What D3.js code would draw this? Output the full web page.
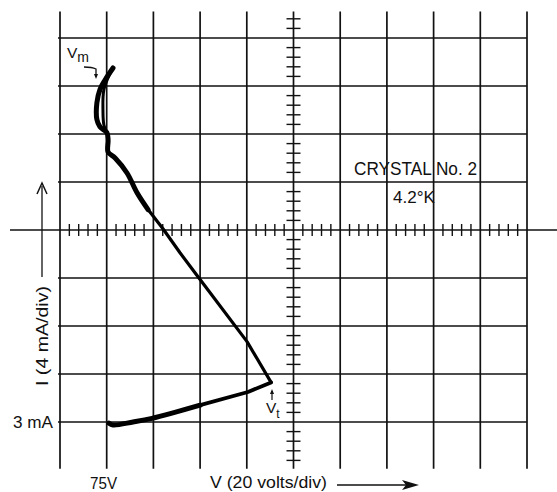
<!DOCTYPE html>
<html><head><meta charset="utf-8">
<script src="https://cdn.jsdelivr.net/npm/d3@7"></script>
<style>html,body{margin:0;padding:0;background:#fff;}svg{display:block;}</style>
</head><body>
<script>
// ---- data (V in volts, I in mA) ----
const gridVolts = [55,75,95,115,135,155,175,195,215,235,255];
const gridCurrents = [3,7,11,15,19,23,27,31,35];
const axisV = 155, axisI = 19;
const traceUpperV = [77.7,74.3,72.1,70.8,70.8,72.1,75.1,75.6,75.6,78.6,83.7,88.0,92.7];
const traceUpperI = [32.5,31.5,30.7,29.6,28.2,27.6,27.1,26.5,25.5,25.0,23.75,22.1,20.7];
const retraceV = [76.8,73.8,73.4,73.8,75.1];
const retraceI = [32.2,30.7,29.0,27.75,27.1];
const traceDiagV = [92.7,99.1,106.4,114.1,135.1,145.4];
const traceDiagI = [20.7,19.1,17.1,15.1,9.7,6.3];
const traceReturnV = [145.4,135.5,115.0];
const traceReturnI = [6.3,5.5,4.4];
const traceBottomV = [115.0,94.4,86.3,77.7,76.0];
const traceBottomI = [4.4,3.3,3.0,2.75,2.9];

const W = 557, H = 492;
const svg = d3.select("body").append("svg").attr("width", W).attr("height", H);
const x = d3.scaleLinear().domain([55,255]).range([60,527]);
const y = d3.scaleLinear().domain([3,35]).range([422,38]);
const yTop = 37.2, yBot = -0.9;
const font = "'Liberation Sans', Arial, sans-serif";

const g = svg.append("g").attr("stroke","#111").attr("fill","none");
// vertical grid
g.selectAll("line.v").data(gridVolts).join("line")
  .attr("x1", d=>x(d)).attr("x2", d=>x(d))
  .attr("y1", y(yTop)).attr("y2", y(yBot)).attr("stroke-width",1.7);
// horizontal grid
g.selectAll("line.h").data(gridCurrents).join("line")
  .attr("x1", d=> d===axisI ? 10 : x(55)-2).attr("x2", d=> d===axisI ? W : x(255))
  .attr("y1", d=>y(d)).attr("y2", d=>y(d)).attr("stroke-width",1.6);

// minor ticks on centre axes
const minorV = d3.range(55, 255.01, 4).filter(v => !gridVolts.includes(Math.round(v)) );
g.selectAll("line.mx").data(minorV).join("line")
  .attr("x1", d=>x(d)).attr("x2", d=>x(d))
  .attr("y1", y(axisI)-6).attr("y2", y(axisI)+6).attr("stroke-width",1.4);
const minorI = d3.range(-0.2, 37.01, 0.8).filter(v => Math.abs((v-3)/4 - Math.round((v-3)/4))>0.01);
g.selectAll("line.my").data(minorI).join("line")
  .attr("x1", x(axisV)-7).attr("x2", x(axisV)+7)
  .attr("y1", d=>y(d)).attr("y2", d=>y(d)).attr("stroke-width",1.4);

// traces
const zip = (a,b)=>a.map((v,i)=>[v,b[i]]);
const lineC = d3.line().x(d=>x(d[0])).y(d=>y(d[1])).curve(d3.curveCatmullRom);
const lineL = d3.line().x(d=>x(d[0])).y(d=>y(d[1]));
const tr = svg.append("g").attr("fill","none").attr("stroke","#000")
  .attr("stroke-linecap","round").attr("stroke-linejoin","round");
tr.append("path").attr("d", lineC(zip(traceUpperV,traceUpperI))).attr("stroke-width",5);
tr.append("path").attr("d", lineC(zip(retraceV,retraceI))).attr("stroke-width",3);
tr.append("path").attr("d", lineL(zip(traceDiagV,traceDiagI))).attr("stroke-width",3.2);
tr.append("path").attr("d", lineL(zip(traceReturnV,traceReturnI))).attr("stroke-width",3.8);
tr.append("path").attr("d", lineC(zip(traceBottomV,traceBottomI))).attr("stroke-width",5);

// text
const t = svg.append("g").attr("fill","#111").attr("font-family",font);
t.append("text").attr("x",354).attr("y",175).attr("font-size",17.5).attr("textLength",123).attr("lengthAdjust","spacingAndGlyphs").text("CRYSTAL No. 2");
t.append("text").attr("x",393).attr("y",203).attr("font-size",16.5).attr("textLength",42).attr("lengthAdjust","spacingAndGlyphs").text("4.2°K");
t.append("text").attr("x",90).attr("y",489).attr("font-size",16.5).attr("textLength",27).attr("lengthAdjust","spacingAndGlyphs").text("75V");
t.append("text").attr("x",13).attr("y",428).attr("font-size",16).attr("textLength",40).attr("lengthAdjust","spacingAndGlyphs").text("3 mA");
t.append("text").attr("x",210).attr("y",488).attr("font-size",16.5).attr("textLength",117).attr("lengthAdjust","spacingAndGlyphs").text("V (20 volts/div)");
t.append("text").attr("transform","translate(48,386) rotate(-90)").attr("font-size",17).attr("textLength",100).attr("lengthAdjust","spacingAndGlyphs").text("I (4 mA/div)");

// Vm label
const vm = t.append("text").attr("x",67).attr("y",58).attr("font-size",15.5);
vm.append("tspan").text("V");
vm.append("tspan").attr("dy",4).attr("font-size",14).text("m");
svg.append("path").attr("d","M84,67 Q92,67 96,69 L96,77").attr("fill","none").attr("stroke","#111").attr("stroke-width",1.3);
svg.append("path").attr("d","M94,74 L96,79 L98,74 Z").attr("fill","#111");
// Vt label
const vt = t.append("text").attr("x",266).attr("y",413).attr("font-size",15.5);
vt.append("tspan").text("V");
vt.append("tspan").attr("dy",5).attr("font-size",12).text("t");
svg.append("line").attr("x1",272).attr("x2",272).attr("y1",400).attr("y2",391).attr("stroke","#111").attr("stroke-width",1.2);
svg.append("path").attr("d","M270,394 L272,389 L274,394 Z").attr("fill","#111");

// axis arrows
svg.append("line").attr("x1",42).attr("x2",42).attr("y1",277).attr("y2",186).attr("stroke","#111").attr("stroke-width",1.3);
svg.append("path").attr("d","M37,194 L42,183 L47,194").attr("fill","none").attr("stroke","#111").attr("stroke-width",1.5);
svg.append("line").attr("x1",337).attr("x2",410).attr("y1",485).attr("y2",485).attr("stroke","#111").attr("stroke-width",1.5);
svg.append("path").attr("d","M402,480 L419,485 L402,490 L406,485 Z").attr("fill","#111");
</script>
</body></html>
